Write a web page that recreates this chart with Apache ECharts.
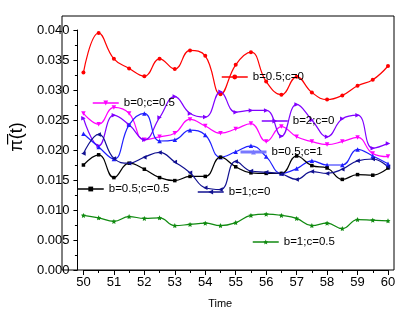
<!DOCTYPE html>
<html>
<head>
<meta charset="utf-8">
<script src="https://cdn.jsdelivr.net/npm/echarts@6/dist/echarts.min.js"></script>
<style>html,body{margin:0;padding:0;background:#fff}#c{width:415px;height:318px}</style>
</head>
<body>
<div id="c"></div>
<script>
const times = [50, 50.5, 51, 51.5, 52, 52.5, 53, 53.5, 54, 54.5, 55, 55.5, 56, 56.5, 57, 57.5, 58, 58.5, 59, 59.5, 60];
const xTicks = [50, 51, 52, 53, 54, 55, 56, 57, 58, 59, 60];
const yTicks = ['0.000', '0.005', '0.010', '0.015', '0.020', '0.025', '0.030', '0.035', '0.040'];

const seriesNames = ['b=0.5;c=0', 'b=0;c=0.5', 'b=2;c=0', 'b=0.5;c=1', 'b=0.5;c=0.5', 'b=1;c=0', 'b=1;c=0.5'];

const b05c0  = [0.0329, 0.0395, 0.0352, 0.0336, 0.0323, 0.0352, 0.0335, 0.0366, 0.0357, 0.0293, 0.0342, 0.0363, 0.0314, 0.0292, 0.0322, 0.0296, 0.0284, 0.0291, 0.0307, 0.0317, 0.0340];
const b0c05  = [0.0261, 0.0243, 0.0271, 0.0261, 0.0217, 0.0222, 0.0228, 0.0251, 0.0240, 0.0228, 0.0235, 0.0244, 0.0214, 0.0239, 0.0222, 0.0214, 0.0209, 0.0214, 0.0221, 0.0194, 0.0189];
const b2c0   = [0.0253, 0.0207, 0.0258, 0.0242, 0.0217, 0.0254, 0.0289, 0.0261, 0.0255, 0.0297, 0.0263, 0.0266, 0.0266, 0.0223, 0.0276, 0.0250, 0.0222, 0.0252, 0.0258, 0.0203, 0.0211];
const b05c1  = [0.0227, 0.0205, 0.0185, 0.0242, 0.0261, 0.0215, 0.0217, 0.0233, 0.0225, 0.0188, 0.0197, 0.0207, 0.0189, 0.0161, 0.0169, 0.0182, 0.0175, 0.0175, 0.0201, 0.0190, 0.0177];
const b05c05 = [0.0175, 0.0192, 0.0154, 0.0178, 0.0168, 0.0154, 0.0149, 0.0156, 0.0156, 0.0188, 0.0172, 0.0162, 0.0161, 0.0161, 0.0190, 0.0174, 0.0170, 0.0151, 0.0159, 0.0158, 0.0170];
const b1c0   = [0.0194, 0.0226, 0.0186, 0.0178, 0.0188, 0.0196, 0.0180, 0.0162, 0.0137, 0.0134, 0.0181, 0.0165, 0.0163, 0.0160, 0.0151, 0.0164, 0.0161, 0.0168, 0.0182, 0.0185, 0.0172];
const b1c05  = [0.0091, 0.0087, 0.0081, 0.0089, 0.0086, 0.0087, 0.0074, 0.0076, 0.0078, 0.0074, 0.0079, 0.0091, 0.0093, 0.0091, 0.0086, 0.0074, 0.0078, 0.0069, 0.0084, 0.0083, 0.0082];

const allValues = [b05c0, b0c05, b2c0, b05c1, b05c05, b1c0, b1c05];
const colors = ['#ff0000', '#ff00ff', '#8000ff', '#1f1fff', '#000000', '#101090', '#108a10'];
const symbols = ['circle', 'triangle', 'triangle', 'triangle', 'rect', 'triangle',
  'path://M0,-10 L2.9,-4 9.5,-3.1 4.7,1.5 5.9,8.1 0,5 -5.9,8.1 -4.7,1.5 -9.5,-3.1 -2.9,-4Z'];
const rotations = [0, 180, -90, 0, 0, 90, 0];
const sizes = [4, 4.5, 4.5, 4.5, 3.5, 4.5, 5];

// inline label anchors (left, top) for each series' legend
const legendPos = [[221, 71], [92, 97], [261, 115], [239, 146], [77, 183], [197, 186], [252, 236]];

const FONT = '"Liberation Sans", Arial, sans-serif';

const series = seriesNames.map((n, i) => ({
  name: n,
  type: 'line',
  xAxisIndex: 0,
  yAxisIndex: 0,
  smooth: 0.45,
  symbol: symbols[i],
  symbolRotate: rotations[i],
  symbolSize: sizes[i],
  showAllSymbol: true,
  lineStyle: { color: colors[i], width: 1.2 },
  itemStyle: { color: colors[i] },
  data: times.map((t, k) => [t, allValues[i][k]]),
  z: 3
}));

const legends = seriesNames.map((n, i) => ({
  data: [i === 3 ? { name: n, lineStyle: { color: '#7878ff', width: 3 }, itemStyle: { color: '#7878ff' } } : n],
  left: legendPos[i][0],
  top: legendPos[i][1],
  padding: 0,
  itemWidth: 26,
  itemHeight: 6,
  itemGap: 0,
  selectedMode: false,
  lineStyle: { width: 1.5 },
  textStyle: { fontSize: 11.5, fontFamily: FONT, color: '#000' }
}));

const chart = echarts.init(document.getElementById('c'), null, { renderer: 'canvas' });
chart.setOption({
  animation: false,
  backgroundColor: '#fff',
  grid: [
    { left: 68, right: 27, top: 30, bottom: 48, show: false },
    { left: 62, right: 21, top: 16, bottom: 48, show: true, borderColor: '#000', borderWidth: 1, backgroundColor: 'transparent' }
  ],
  xAxis: [
    {
      gridIndex: 0, type: 'value', min: 50, max: 60, interval: 1,
      name: 'Time', nameLocation: 'middle', nameGap: 28,
      nameTextStyle: { fontSize: 11, fontFamily: FONT, color: '#000', padding: [0, 31, 0, 0] },
      axisLine: { show: true, lineStyle: { color: '#000', width: 1 } },
      axisTick: { show: true, length: 5, lineStyle: { color: '#000' } },
      minorTick: { show: true, splitNumber: 2, length: 3, lineStyle: { color: '#000' } },
      splitLine: { show: false },
      axisLabel: { fontSize: 13, fontFamily: FONT, color: '#000', margin: 6,
        formatter: v => String(xTicks[xTicks.indexOf(v)]) }
    },
    { gridIndex: 1, type: 'value', min: 0, max: 1, show: false }
  ],
  yAxis: [
    {
      gridIndex: 0, type: 'value', min: 0, max: 0.04, interval: 0.005, offset: 6,
      name: 'π\u0305(t)', nameLocation: 'middle', nameGap: 35, nameRotate: 90,
      nameTextStyle: { fontSize: 18, fontFamily: FONT, color: '#000', padding: [0, 0, 0, 26] },
      axisLine: { show: true, lineStyle: { color: '#000', width: 1 } },
      axisTick: { show: true, length: 4, lineStyle: { color: '#000' } },
      minorTick: { show: true, splitNumber: 2, length: 2.5, lineStyle: { color: '#000' } },
      splitLine: { show: false },
      axisLabel: { fontSize: 13, fontFamily: FONT, color: '#000', margin: 8,
        formatter: v => yTicks[Math.round(v / 0.005)] }
    },
    { gridIndex: 1, type: 'value', min: 0, max: 1, show: false }
  ],
  legend: legends,
  series: series
});
</script>
</body>
</html>
